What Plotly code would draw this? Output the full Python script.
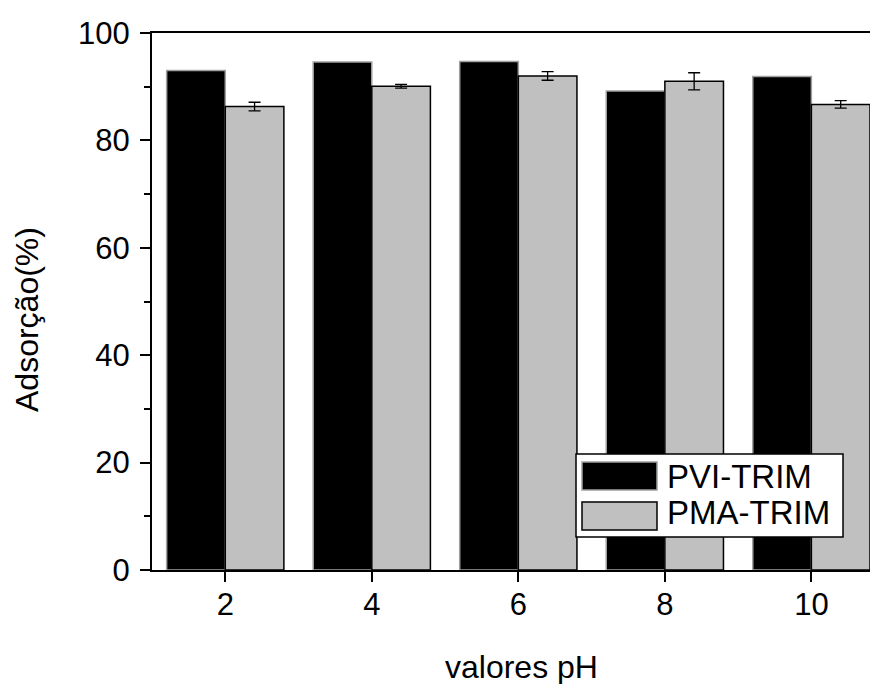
import plotly.graph_objects as go

# pH values and adsorption (%) for each polymer
ph_values = [2, 4, 6, 8, 10]
pvi_trim = [93.0, 94.6, 94.7, 89.2, 91.9]
pma_trim = [86.3, 90.1, 92.0, 91.0, 86.7]
pma_err = [0.8, 0.35, 0.8, 1.6, 0.7]

series_names = ["PVI-TRIM", "PMA-TRIM"]
y_ticks = [0, 20, 40, 60, 80, 100]

W, H = 870, 684
L, R, T, B = 152, 0, 33, 114
PW, PH = W - L - R, H - T - B

FONT = "Arial, Liberation Sans, sans-serif"
GREY = "#c0c0c0"


def px_x(px):
    return (px - L) / PW


def px_y(py):
    return (H - B - py) / PH


fig = go.Figure()
fig.add_trace(go.Bar(
    x=ph_values, y=pvi_trim, name=series_names[0],
    marker=dict(color="black", line=dict(color="#a0a0a0", width=1.5)),
))
fig.add_trace(go.Bar(
    x=ph_values, y=pma_trim, name=series_names[1],
    marker=dict(color=GREY, line=dict(color="black", width=1.5)),
    error_y=dict(type="data", array=pma_err, color="black", thickness=1.3, width=6),
))

fig.update_layout(
    width=W, height=H,
    margin=dict(l=L, r=R, t=T, b=B),
    paper_bgcolor="white", plot_bgcolor="white",
    barmode="group", bargap=0.2, bargroupgap=0,
    showlegend=False,
    font=dict(family=FONT, color="black", size=31),
)

fig.update_xaxes(
    range=[1.0, 10.8], tickvals=ph_values, ticktext=[str(v) for v in ph_values],
    showgrid=False, zeroline=False,
    showline=True, linecolor="black", linewidth=2, mirror=True,
    ticks="outside", ticklen=10, tickwidth=2, tickcolor="black",
    tickfont=dict(size=31, family=FONT, color="black"),
    ticklabelstandoff=-4,
)
fig.update_yaxes(
    range=[0, 100], tickvals=y_ticks,
    showgrid=False, zeroline=False,
    showline=True, linecolor="black", linewidth=2,
    ticks="outside", ticklen=10, tickwidth=2, tickcolor="black",
    tickfont=dict(size=31, family=FONT, color="black"),
    ticklabelstandoff=4,
    minor=dict(dtick=10, tick0=0, ticks="outside", ticklen=6, tickwidth=2,
               tickcolor="black", showgrid=False),
)

# axis titles
fig.add_annotation(
    text="Adsorção(%)", textangle=-90, showarrow=False,
    xref="paper", yref="paper", x=px_x(27), y=px_y(320),
    xanchor="center", yanchor="middle",
    font=dict(size=32, family=FONT, color="black"),
)
fig.add_annotation(
    text="valores pH", showarrow=False,
    xref="paper", yref="paper", x=px_x(521), y=px_y(667),
    xanchor="center", yanchor="middle",
    font=dict(size=32, family=FONT, color="black"),
)

# legend box
shapes = [
    dict(type="rect", xref="paper", yref="paper",
         x0=px_x(576), x1=px_x(843), y0=px_y(537), y1=px_y(454),
         fillcolor="white", line=dict(color="black", width=1.5), layer="above"),
    dict(type="rect", xref="paper", yref="paper",
         x0=px_x(582), x1=px_x(657), y0=px_y(490), y1=px_y(462),
         fillcolor="black", line=dict(color="#a0a0a0", width=1.5), layer="above"),
    dict(type="rect", xref="paper", yref="paper",
         x0=px_x(582), x1=px_x(657), y0=px_y(530), y1=px_y(502),
         fillcolor=GREY, line=dict(color="black", width=1.5), layer="above"),
]
fig.update_layout(shapes=shapes)
for name, cy in zip(series_names, [476, 512]):
    fig.add_annotation(
        text=name, showarrow=False, xref="paper", yref="paper",
        x=px_x(665), y=px_y(cy), xanchor="left", yanchor="middle",
        font=dict(size=33, family=FONT, color="black"),
    )

fig.write_html("out.html")
